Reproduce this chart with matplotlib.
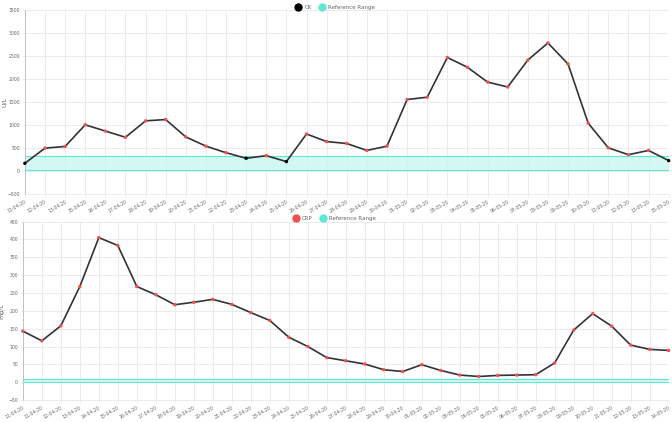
import numpy as np
import matplotlib.pyplot as plt
from matplotlib.lines import Line2D

# --- data ---
ck_dates = ["11-04-20", "12-04-20", "13-04-20", "15-04-20", "16-04-20", "17-04-20",
            "18-04-20", "19-04-20", "20-04-20", "21-04-20", "22-04-20", "23-04-20",
            "24-04-20", "25-04-20", "26-04-20", "27-04-20", "28-04-20", "29-04-20",
            "30-04-20", "01-05-20", "02-05-20", "03-05-20", "04-05-20", "05-05-20",
            "06-05-20", "07-05-20", "08-05-20", "09-05-20", "10-05-20", "11-05-20",
            "12-05-20", "13-05-20", "15-05-20"]
ck_values = [170, 500, 536, 1007, 871, 736, 1093, 1121, 743, 543, 400, 279,
             336, 207, 807, 643, 600, 450, 543, 1557, 1607, 2471, 2257, 1936,
             1829, 2414, 2786, 2329, 1043, 507, 357, 450, 229]
ck_ref = (30, 320)

crp_dates = ["11-04-20", "11-04-20", "12-04-20", "13-04-20", "14-04-20", "15-04-20",
             "16-04-20", "17-04-20", "18-04-20", "19-04-20", "20-04-20", "21-04-20",
             "22-04-20", "23-04-20", "24-04-20", "25-04-20", "26-04-20", "27-04-20",
             "28-04-20", "29-04-20", "30-04-20", "01-05-20", "02-05-20", "03-05-20",
             "04-05-20", "05-05-20", "06-05-20", "07-05-20", "08-05-20", "09-05-20",
             "10-05-20", "11-05-20", "12-05-20", "13-05-20", "14-05-20"]
crp_values = [143, 116, 158, 268, 405, 383, 268, 245, 217, 224, 232, 218,
              195, 173, 126, 100, 69, 60, 51, 35, 30, 49, 33, 20,
              16, 19, 20, 21, 54, 146, 192, 157, 104, 92, 89]
crp_ref = (0, 8)

RED = "#f0514f"
REF_FILL = "#c8f7ee"
REF_EDGE = "#5fe8d6"
GRID = "#e8e8e8"
TXT = "#666666"

fig = plt.figure(figsize=(6.72, 4.22), dpi=100)


def draw_panel(ax, dates, values, ref, ylim, step, ylabel, name, name_color):
    x = np.arange(len(values))
    vals = np.array(values, dtype=float)
    ax.fill_between(x, ref[0], ref[1], color=REF_FILL, alpha=0.8, lw=0, zorder=1)
    ax.plot(x, np.full(len(x), ref[0]), color=REF_EDGE, lw=0.8, zorder=2)
    ax.plot(x, np.full(len(x), ref[1]), color=REF_EDGE, lw=0.8, zorder=2)
    ax.plot(x, vals, color="#333333", lw=1.2, zorder=3, clip_on=False)
    inside = (vals >= ref[0]) & (vals <= ref[1])
    cols = np.where(inside, "black", RED)
    ax.scatter(x, vals, s=6, c=cols, zorder=4, clip_on=False, linewidths=0)

    ax.set_xlim(0, len(values) - 1)
    ax.set_ylim(*ylim)
    ax.set_yticks(np.arange(ylim[0], ylim[1] + 1, step))
    ax.set_xticks(x)
    ax.set_xticklabels(dates, rotation=30, ha="right", rotation_mode="anchor")
    ax.tick_params(axis="both", labelsize=3.3, colors=TXT, length=2, width=0.5,
                   color=GRID, pad=1.5)
    ax.grid(True, color=GRID, lw=0.6)
    ax.set_axisbelow(True)
    for s in ["top", "right"]:
        ax.spines[s].set_visible(False)
    ax.spines["left"].set_color("#bbbbbb")
    ax.spines["bottom"].set_color(GRID)
    ax.spines["left"].set_linewidth(0.6)
    ax.spines["bottom"].set_linewidth(0.6)
    ax.set_ylabel(ylabel, fontsize=4.5, color=TXT)
    ax.yaxis.set_label_coords(-0.028, 0.5)

    handles = [Line2D([], [], marker="o", ls="", color=name_color, markersize=5),
               Line2D([], [], marker="o", ls="", color=REF_EDGE, markersize=5)]
    ax.legend(handles, [name, "Reference Range"], loc="lower center",
              bbox_to_anchor=(0.48, 1.0), ncol=2, frameon=False, fontsize=4,
              labelcolor=TXT, handletextpad=0.1, columnspacing=0.8,
              borderaxespad=0.05, borderpad=0.05)


ax1 = fig.add_axes([0.037, 0.54, 0.958, 0.436])
draw_panel(ax1, ck_dates, ck_values, ck_ref, (-500, 3500), 500, "U/L", "CK", "black")

ax2 = fig.add_axes([0.034, 0.052, 0.961, 0.423])
draw_panel(ax2, crp_dates, crp_values, crp_ref, (-50, 450), 50, "mg/L", "CRP", RED)

fig.savefig("out.png", dpi=100)
